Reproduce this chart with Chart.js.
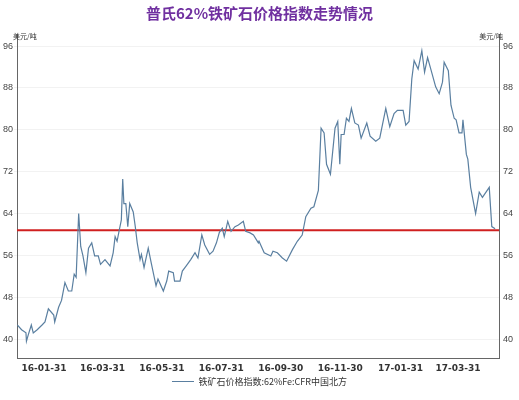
<!DOCTYPE html>
<html><head><meta charset="utf-8">
<script src="https://cdn.jsdelivr.net/npm/chart.js@4/dist/chart.umd.min.js"></script>
<style>html,body{margin:0;background:#fff}#wrap{width:519px;height:400px}</style>
</head><body><div id="wrap"><canvas id="c"></canvas></div>
<script>
// day index counted from 2016-01-01
const days = [2.6,7,11.5,12,14,17,19,23,28,31,34.5,40,41,45,48,51.5,55,58.5,61,63,65.6,67.7,70,73,75.7,79,82,85.7,88,92.6,97.8,101,103,105,107,109.4,110.8,112,114,116,118,121.6,123.7,125.7,128.6,130,132.7,137,140,145,147,152.5,156,158,162.7,164,169.6,172,176,180.6,185,188,192,195,200,203.5,207,210,213,215,218.6,222,226,229.5,234.6,237,241.5,245,250,250.7,256,262.8,265,269.5,274.7,279,285,290,295,298.7,304,307,311.6,314.4,317.5,320,324,328.7,331.5,333.6,335,338,340.4,343,345.5,349,352.7,355.5,361.3,364.7,370.5,374.6,377.3,380.8,384.9,389.3,392.7,398.6,401.3,404.7,407.5,409.9,414,417.8,420.6,423.7,427,432,435.6,439,440.7,445,447.7,451,453,456,459,460,463.5,465,467.9,473,476.7,480,487,489.6,493];
const prices = [42.7,41.8,41.2,39.6,40.9,42.7,41.2,41.8,42.7,43.3,45.8,44.6,43.3,46.1,47.4,50.8,49.2,49.2,52.4,51.8,64.0,57.7,55.9,52.7,57.4,58.4,55.9,55.9,54.3,55.2,54.0,56.5,59.6,58.7,60.6,62.8,70.6,65.9,65.9,61.5,65.9,64.3,61.5,58.4,55.2,56.2,53.7,57.4,54.6,50.2,51.5,49.2,51.1,53.0,52.7,51.1,51.1,53.0,54.0,55.2,56.5,55.5,59.9,58.0,56.2,56.8,58.4,60.4,61.2,59.6,62.5,60.6,61.5,61.8,62.5,60.6,60.3,59.9,58.4,58.7,56.5,55.9,56.8,56.5,55.5,54.9,57.1,58.7,59.9,63.4,65.0,65.3,68.4,80.3,79.4,73.4,71.5,80.3,81.6,73.4,79.1,79.1,82.2,81.6,84.1,81.3,80.9,78.4,81.3,78.8,77.8,78.4,80.9,84.1,80.6,83.1,83.7,83.7,80.9,81.6,89.7,93.2,91.6,95.1,91.0,93.8,91.6,88.2,86.9,89.1,92.9,91.3,84.7,82.2,81.9,79.4,79.4,81.9,75.3,74.4,69.0,64.0,68.1,67.1,69.0,61.5,61.1];
const refLevel = 60.8;
const monthEnds = [30,59,90,120,151,181,212,243,273,304,334,365,396,424,455,485];
const monthLabels = ['16-01-31','','16-03-31','','16-05-31','','16-07-31','','16-09-30','','16-11-30','','17-01-31','','17-03-31',''];
const yTicks = [40,48,56,64,72,80,88,96];

const unitPlugin = {
  id: 'units',
  afterDraw(chart) {
    const ctx = chart.ctx, a = chart.chartArea;
    ctx.save();
    ctx.font = '7px "Noto Sans CJK SC"';
    ctx.fillStyle = '#333';
    ctx.textBaseline = 'bottom';
    ctx.textAlign = 'left';
    ctx.fillText('美元/吨', a.left - 4, a.top + 6);
    ctx.textAlign = 'right';
    ctx.fillText('美元/吨', a.right + 4, a.top + 6);
    ctx.restore();
  }
};

const yAxis = (pos) => ({
  position: pos, min: 36.4, max: 98.3,
  afterBuildTicks: (s) => { s.ticks = yTicks.map(v => ({ value: v })); },
  afterFit: (s) => { s.width = pos === 'left' ? 17 : 20; },
  ticks: { color: '#444', font: { size: 9, family: 'Liberation Sans' }, padding: 1 },
  grid: { color: pos === 'left' ? '#f2f2f2' : 'transparent', tickLength: 3, drawTicks: true },
  border: { color: '#666' }
});

new Chart(document.getElementById('c'), {
  type: 'line',
  data: {
    datasets: [
      { label: '铁矿石价格指数:62%Fe:CFR中国北方', data: days.map((d, i) => ({ x: d, y: prices[i] })),
        borderColor: '#5a7fa0', borderWidth: 1.2, pointRadius: 0, tension: 0 },
      { label: 'ref', data: [{ x: 2.3, y: refLevel }, { x: 497, y: refLevel }],
        borderColor: '#d02020', borderWidth: 2, pointRadius: 0 }
    ]
  },
  options: {
    responsive: true, maintainAspectRatio: false, animation: false,
    layout: { padding: { top: 2, bottom: 4 } },
    scales: {
      x: { type: 'linear', min: 2.3, max: 497,
        afterBuildTicks: (s) => { s.ticks = monthEnds.map(v => ({ value: v })); },
        afterFit: (s) => { s.height = 17; },
        ticks: { autoSkip: false, maxRotation: 0, color: '#333', padding: 1, font: { size: 9, family: 'DejaVu Sans', weight: 'bold' },
          callback: (v, i) => monthLabels[i] },
        grid: { display: false, drawTicks: true, tickLength: 4 },
        border: { color: '#666' } },
      y: yAxis('left'),
      y2: yAxis('right')
    },
    plugins: {
      title: { display: true, text: '普氏62%铁矿石价格指数走势情况', color: '#7030a0',
        font: { size: 15, weight: 'bold', family: 'Noto Sans CJK SC' }, padding: { top: 2, bottom: 12 } },
      legend: { position: 'bottom',
        labels: { filter: (it) => it.text !== 'ref', boxWidth: 22, boxHeight: 0, color: '#333',
          font: { size: 9, family: 'Noto Sans CJK SC' }, padding: 2 } },
      tooltip: { enabled: false }
    }
  },
  plugins: [unitPlugin]
});
</script></body></html>
